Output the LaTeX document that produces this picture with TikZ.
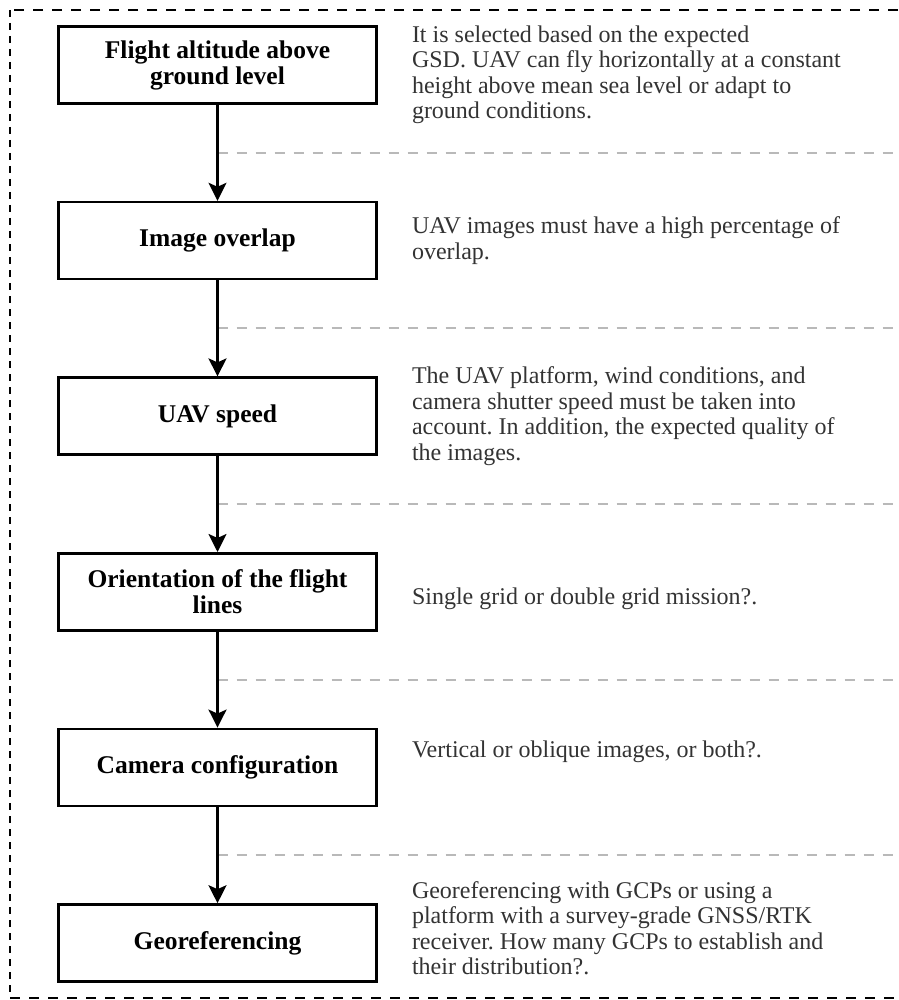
\documentclass[tikz,border=0pt]{standalone}
\usepackage{fontspec}
\setmainfont{Liberation Serif}
\frenchspacing
\usetikzlibrary{positioning, arrows.meta, calc}
\tikzset{stagebox/.style={draw, line width=2.6pt, align=center, font=\bfseries\fontsize{25.5}{26}\selectfont, minimum width=318pt, minimum height=77pt, inner sep=0pt},
note/.style={align=left, font=\fontsize{24}{25.5}\selectfont, text=black!80, inner sep=0pt},
flow/.style={-{Stealth[length=18pt, width=18pt, inset=4pt]}, line width=2.4pt},
sep_line/.style={gray!55, line width=2pt, dash pattern=on 10pt off 9pt},
frame_h/.style={line width=2pt, dash pattern=on 10pt off 9pt},
frame_v/.style={line width=2pt, dash pattern=on 7pt off 6pt}}
\begin{document}
\begin{tikzpicture}[x=1pt, y=-1pt, node distance=96pt and 34pt]
  \useasboundingbox (0,0) rectangle (898,1000);
  % outer frame
  \draw[frame_h] (898,10) -- (10,10);
  \draw[frame_v] (10,10) -- (10,998);
  \draw[frame_h] (10,998) -- (898,998);
  % steps
  \node[stagebox] (alt) at (217.5,65) {Flight altitude above\\ ground level};
  \node[stagebox, below=of alt] (ovl) {Image overlap};
  \node[stagebox, below=of ovl] (spd) {UAV speed};
  \node[stagebox, below=of spd] (ori) {Orientation of the flight\\ lines};
  \node[stagebox, below=of ori] (cam) {Camera configuration};
  \node[stagebox, below=of cam] (geo) {Georeferencing};
  % notes
  \node[note, right=of alt, yshift=-10pt] (alt_n) {It is selected based on the expected\\ GSD. UAV can fly horizontally at a constant\\ height above mean sea level or adapt to\\ ground conditions.};
  \node[note, right=of ovl] (ovl_n) {UAV images must have a high percentage of\\ overlap.};
  \node[note, right=of spd] (spd_n) {The UAV platform, wind conditions, and\\ camera shutter speed must be taken into\\ account. In addition, the expected quality of\\ the images.};
  \node[note, right=of ori, yshift=-7pt] (ori_n) {Single grid or double grid mission?.};
  \node[note, right=of cam, yshift=16pt] (cam_n) {Vertical or oblique images, or both?.};
  \node[note, right=of geo, yshift=15pt] (geo_n) {Georeferencing with GCPs or using a\\ platform with a survey-grade GNSS/RTK\\ receiver. How many GCPs to establish and\\ their distribution?.};
  % separators
  \draw[sep_line] ($(alt.south)!0.5!(ovl.north)$) -- ++(680,0);
  \draw[sep_line] ($(ovl.south)!0.5!(spd.north)$) -- ++(680,0);
  \draw[sep_line] ($(spd.south)!0.5!(ori.north)$) -- ++(680,0);
  \draw[sep_line] ($(ori.south)!0.5!(cam.north)$) -- ++(680,0);
  \draw[sep_line] ($(cam.south)!0.5!(geo.north)$) -- ++(680,0);
  % flow
  \draw[flow] (alt) -- (ovl);
  \draw[flow] (ovl) -- (spd);
  \draw[flow] (spd) -- (ori);
  \draw[flow] (ori) -- (cam);
  \draw[flow] (cam) -- (geo);
\end{tikzpicture}
\end{document}
